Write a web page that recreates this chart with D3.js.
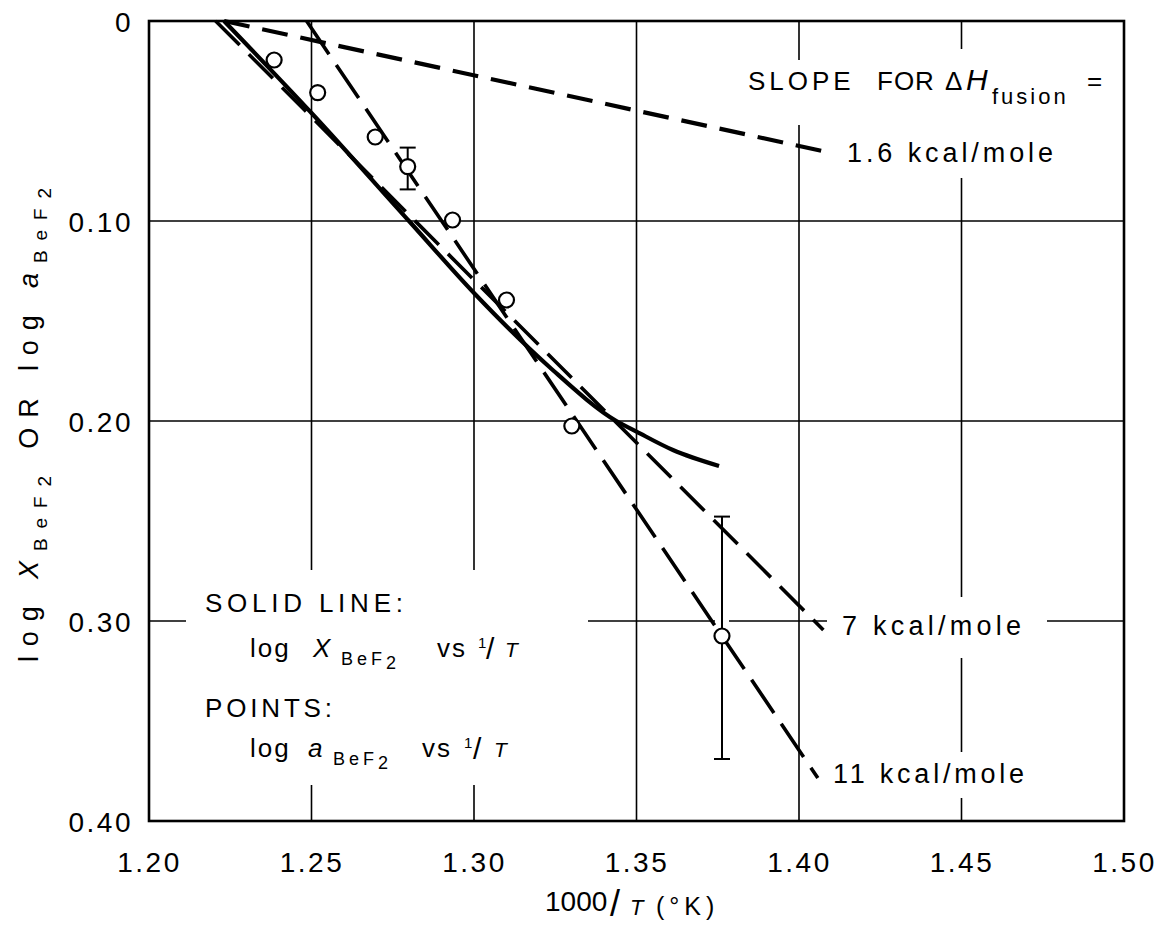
<!DOCTYPE html>
<html><head><meta charset="utf-8">
<script src="https://cdn.jsdelivr.net/npm/d3@7"></script>
<style>
body{margin:0;background:#fff}
svg{display:block}
text{font-family:"Liberation Sans",Arial,sans-serif;fill:#000}
</style>
</head><body>
<svg id="chart" width="1157" height="927"></svg>
<script>
// ---------- data ----------
const xTicks = [1.20, 1.25, 1.30, 1.35, 1.40, 1.45, 1.50];
const yTicks = [0, 0.10, 0.20, 0.30, 0.40];

// solid line: log X_BeF2 vs 1000/T
const solidX = [1.2231, 1.2500, 1.2800, 1.3000, 1.3232, 1.3438, 1.3500, 1.3612, 1.3754];
const solidY = [0.000, 0.046, 0.100, 0.136, 0.173, 0.200, 0.2053, 0.2145, 0.2225];

// points: log a_BeF2 vs 1000/T
const pointX = [1.2385, 1.2519, 1.2696, 1.2796, 1.2934, 1.3100, 1.3301, 1.3763];
const pointY = [0.0195, 0.0358, 0.0580, 0.0728, 0.0995, 0.1395, 0.2025, 0.3075];
const errLow  = [null, null, null, 0.0633, null, null, null, 0.2478];
const errHigh = [null, null, null, 0.0842, null, null, null, 0.3690];

// reference slopes for dH fusion
const slopeNames = ["1.6 kcal/mole", "7 kcal/mole", "11 kcal/mole"];
const slopeX0 = [1.2231, 1.2205, 1.2485];
const slopeY0 = [0, 0, 0];
const slopeX1 = [1.4086, 1.4075, 1.4058];
const slopeY1 = [0.0655, 0.3045, 0.3785];

// ---------- drawing ----------
const svg = d3.select("#chart");
const x = d3.scaleLinear().domain([1.20, 1.50]).range([149, 1124]);
const y = d3.scaleLinear().domain([0, 0.40]).range([21, 821]);

// grid
const grid = svg.append("g").attr("stroke", "#000").attr("stroke-width", 1.6);
grid.selectAll("line.v").data(xTicks.slice(1, -1)).join("line").attr("class", "v")
  .attr("x1", d => x(d)).attr("x2", d => x(d)).attr("y1", y(0)).attr("y2", y(0.40));
grid.selectAll("line.h").data(yTicks.slice(1, -1)).join("line").attr("class", "h")
  .attr("x1", x(1.20)).attr("x2", x(1.50)).attr("y1", d => y(d)).attr("y2", d => y(d));

// white breaks in grid around lettering
const breaks = [
  [186, 570, 588, 785], [745, 60, 1110, 125], [840, 49, 1060, 178],
  [827, 597, 1047, 658], [828, 752, 1040, 798], [715, 617, 729, 627]
];
svg.append("g").selectAll("rect").data(breaks).join("rect")
  .attr("x", d => d[0]).attr("y", d => d[1])
  .attr("width", d => d[2] - d[0]).attr("height", d => d[3] - d[1])
  .attr("fill", "#fff");

// frame
svg.append("rect").attr("x", x(1.20)).attr("y", y(0))
  .attr("width", x(1.50) - x(1.20)).attr("height", y(0.40) - y(0))
  .attr("fill", "none").attr("stroke", "#000").attr("stroke-width", 2.6);

// axes
const fmtY = d => d === 0 ? "0" : d3.format(".2f")(d);
const xAxis = svg.append("g").attr("transform", `translate(0,${y(0.40)})`)
  .call(d3.axisBottom(x).tickValues(xTicks).tickSize(0).tickFormat(d3.format(".2f")));
xAxis.select(".domain").remove();
xAxis.selectAll("text").attr("y", 51).attr("dy", 0)
  .style("font-size", "28px").style("letter-spacing", "2.5px")
  .style("font-family", '"Liberation Sans",Arial,sans-serif');

const yAxis = svg.append("g").attr("transform", `translate(${x(1.20)},0)`)
  .call(d3.axisLeft(y).tickValues(yTicks).tickSize(0).tickFormat(fmtY));
yAxis.select(".domain").remove();
yAxis.selectAll("text").attr("x", -16).attr("dy", "0.36em")
  .style("font-size", "28px").style("letter-spacing", "2.5px")
  .style("font-family", '"Liberation Sans",Arial,sans-serif');

// slope lines
const dashes = ["26,13", "34,13", "40,13"];
const widths = [4.2, 3.6, 3.6];
svg.append("g").selectAll("line").data(slopeNames).join("line")
  .attr("x1", (d, i) => x(slopeX0[i])).attr("y1", (d, i) => y(slopeY0[i]))
  .attr("x2", (d, i) => x(slopeX1[i])).attr("y2", (d, i) => y(slopeY1[i]))
  .attr("stroke", "#000").attr("stroke-width", (d, i) => widths[i])
  .attr("stroke-dasharray", (d, i) => dashes[i]);

// solid curve
const solidData = solidX.map((v, i) => [v, solidY[i]]);
svg.append("path").datum(solidData)
  .attr("d", d3.line().x(d => x(d[0])).y(d => y(d[1])).curve(d3.curveMonotoneX))
  .attr("fill", "none").attr("stroke", "#000").attr("stroke-width", 4.2);

// error bars
const errIdx = pointX.map((v, i) => i).filter(i => errLow[i] !== null);
const eb = svg.append("g").attr("stroke", "#000").attr("stroke-width", 2);
eb.selectAll("line.s").data(errIdx).join("line").attr("class", "s")
  .attr("x1", i => x(pointX[i])).attr("x2", i => x(pointX[i]))
  .attr("y1", i => y(errLow[i])).attr("y2", i => y(errHigh[i]));
eb.selectAll("line.t").data(errIdx).join("line").attr("class", "t")
  .attr("x1", i => x(pointX[i]) - 8).attr("x2", i => x(pointX[i]) + 8)
  .attr("y1", i => y(errLow[i])).attr("y2", i => y(errLow[i]));
eb.selectAll("line.b").data(errIdx).join("line").attr("class", "b")
  .attr("x1", i => x(pointX[i]) - 8).attr("x2", i => x(pointX[i]) + 8)
  .attr("y1", i => y(errHigh[i])).attr("y2", i => y(errHigh[i]));

// points
svg.append("g").selectAll("circle").data(pointX).join("circle")
  .attr("cx", d => x(d)).attr("cy", (d, i) => y(pointY[i])).attr("r", 7.5)
  .attr("fill", "#fff").attr("stroke", "#000").attr("stroke-width", 2.2);

// slope labels
const labelPos = [[847, 162, 206], [842, 635, 179], [833, 783, 191]];
svg.append("g").selectAll("text").data(slopeNames).join("text")
  .attr("x", (d, i) => labelPos[i][0]).attr("y", (d, i) => labelPos[i][1])
  .attr("textLength", (d, i) => labelPos[i][2]).attr("lengthAdjust", "spacing")
  .style("font-size", "27px").text(d => d);

// SLOPE FOR dH fusion =
const st = svg.append("text").attr("y", 90).style("font-size", "26px");
st.append("tspan").attr("x", 748).style("letter-spacing", "4px").text("SLOPE");
st.append("tspan").attr("x", 877).style("letter-spacing", "1px").text("FOR");
st.append("tspan").attr("x", 945).text("\u0394");
st.append("tspan").attr("x", 966).style("font-style", "italic").style("font-size", "30px").text("H");
st.append("tspan").attr("x", 992).attr("dy", 14).style("font-size", "22px").style("letter-spacing", "3px").text("fusion");
st.append("tspan").attr("x", 1087).attr("dy", -14).text("=");

// legend block
svg.append("text").attr("x", 205).attr("y", 612).attr("textLength", 198)
  .attr("lengthAdjust", "spacing").style("font-size", "26px").text("SOLID LINE:");
svg.append("text").attr("x", 205).attr("y", 717).attr("textLength", 127)
  .attr("lengthAdjust", "spacing").style("font-size", "26px").text("POINTS:");

function vsLine(yb, sym, p) {
  const t = svg.append("text").attr("y", yb).style("font-size", "26px");
  t.append("tspan").attr("x", 250).style("letter-spacing", "2px").text("log");
  t.append("tspan").attr("x", p[0]).style("font-style", "italic").text(sym);
  t.append("tspan").attr("x", p[1]).attr("dy", 8).style("font-size", "18px").style("letter-spacing", "4px").text("BeF");
  t.append("tspan").attr("dy", 4).style("font-size", "18px").text("2");
  t.append("tspan").attr("x", p[2]).attr("dy", -12).style("letter-spacing", "2px").text("vs");
  t.append("tspan").attr("x", p[3]).attr("dy", -9).style("font-size", "15px").text("1");
  t.append("tspan").attr("x", p[4]).attr("dy", 11).style("font-size", "30px").text("/");
  t.append("tspan").attr("x", p[5]).attr("dy", -2).style("font-style", "italic").style("font-size", "21px").text("T");
}
vsLine(657, "X", [313, 341, 437, 478, 486, 505]);
vsLine(757, "a", [308, 333, 422, 464, 473, 494]);

// x-axis title
const xt = svg.append("text").attr("y", 911);
xt.append("tspan").attr("x", 545).style("font-size", "28px").text("1000");
xt.append("tspan").attr("x", 610).attr("dy", 5).style("font-size", "36px").text("/");
xt.append("tspan").attr("x", 630).attr("dy", -1).style("font-size", "22px").style("font-style", "italic").text("T");
xt.append("tspan").attr("x", 656).style("font-size", "25px").style("letter-spacing", "5px").text("(\u00B0K)");

// y-axis title (rotated)
const yt = svg.append("text").attr("transform", "translate(38,662) rotate(-90)")
  .attr("x", 0).attr("y", 0).attr("textLength", 474).attr("lengthAdjust", "spacing")
  .style("font-size", "27px");
yt.append("tspan").text("log ");
yt.append("tspan").style("font-style", "italic").text("X");
yt.append("tspan").attr("dy", 9).style("font-size", "19px").text("BeF");
yt.append("tspan").attr("dy", 4).style("font-size", "19px").text("2");
yt.append("tspan").attr("dy", -13).text(" OR log ");
yt.append("tspan").style("font-style", "italic").text("a");
yt.append("tspan").attr("dy", 9).style("font-size", "19px").text("BeF");
yt.append("tspan").attr("dy", 4).style("font-size", "19px").text("2");
</script>
</body></html>
